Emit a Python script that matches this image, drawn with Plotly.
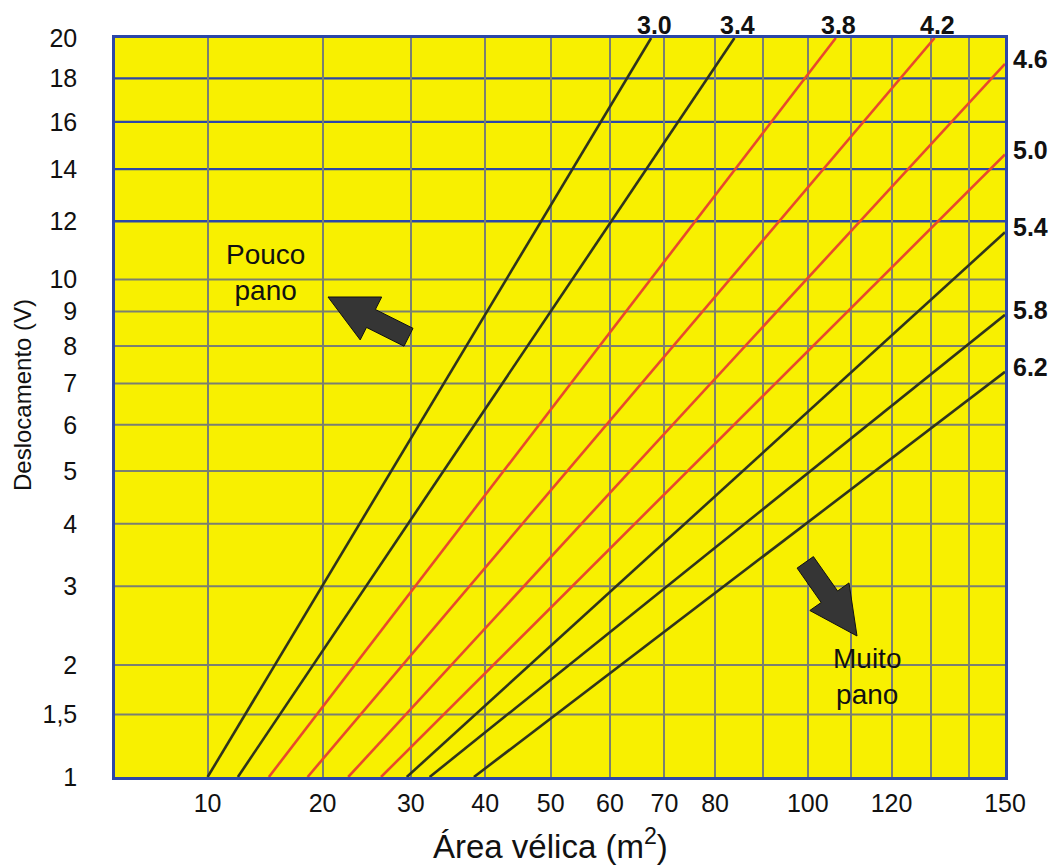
import numpy as np
import plotly.graph_objects as go

# ---------------- data ----------------
ratio_labels = ["3.0", "3.4", "3.8", "4.2", "4.6", "5.0", "5.4", "5.8", "6.2"]
start_area = [10, 12.3, 14.9, 18.5, 22.7, 26.4, 29.5, 32.4, 38.4]   # m2 at V = 1
start_disp = [1, 1, 1, 1, 1, 1, 1, 1, 1]
end_area = [67.5, 84, 106.5, 131, 150, 150, 150, 150, 150]
end_disp = [20, 20, 20, 20, 18.7, 14.6, 11.6, 8.9, 7.3]
line_kind = ["dark", "dark", "red", "red", "red", "red", "dark", "dark", "dark"]

x_ticks = [10, 20, 30, 40, 50, 60, 70, 80, 100, 120, 150]
x_labels = ["10", "20", "30", "40", "50", "60", "70", "80", "100", "120", "150"]
x_extra_grid = [90, 110, 130, 140]
y_ticks = [1, 1.5, 2, 3, 4, 5, 6, 7, 8, 9, 10, 12, 14, 16, 18, 20]
y_labels = ["1", "1,5", "2", "3", "4", "5", "6", "7", "8", "9", "10", "12", "14", "16", "18", "20"]
y_blue = [12, 14, 16, 18]
x_min_area = 4.44

# ---------------- styles ----------------
YELLOW = "#f8f000"
BLUE = "#2c47a8"
GRAY = "#7b8070"
DARK = "#30341c"
RED = "#e8492c"
FONT = "Liberation Sans, Arial, Helvetica, sans-serif"


def sx(v):
    return np.sqrt(np.asarray(v, dtype=float))


def sy(v):
    return np.cbrt(np.asarray(v, dtype=float))


fig = go.Figure()

# ratio lines
for lab, a0, d0, a1, d1, kind in zip(ratio_labels, start_area, start_disp, end_area, end_disp, line_kind):
    fig.add_trace(go.Scatter(
        x=sx([a0, a1]), y=sy([d0, d1]), mode="lines",
        line=dict(color=RED if kind == "red" else DARK, width=2.6),
        hoverinfo="skip", name=lab))
    if d1 >= 20:
        fig.add_annotation(x=float(sx(a1)), y=float(sy(d1)), text="<b>%s</b>" % lab,
                           showarrow=False, xanchor="center", yanchor="bottom", yshift=-3,
                           xshift=3, font=dict(family=FONT, size=25, color="#111"))
    else:
        fig.add_annotation(x=float(sx(a1)), y=float(sy(d1)), text="<b>%s</b>" % lab,
                           showarrow=False, xanchor="left", yanchor="middle", xshift=6, yshift=5,
                           font=dict(family=FONT, size=25, color="#111"))

# horizontal grid lines
for v in y_ticks[1:-1]:
    fig.add_shape(type="line", xref="paper", yref="y", x0=0, x1=1,
                  y0=float(sy(v)), y1=float(sy(v)),
                  line=dict(color=BLUE if v in y_blue else GRAY, width=2.4 if v in y_blue else 2),
                  layer="between")


# arrows (decorative)
def arrow_path(tail, tip, L=90, HL=48, HW=48, BW=20):
    d = np.array(tip, float) - np.array(tail, float)
    d /= np.linalg.norm(d)
    n = np.array([-d[1], d[0]])
    pts_uv = [(0, 0), (-HL, HW / 2), (-HL, BW / 2), (-L, BW / 2), (-L, -BW / 2),
              (-HL, -BW / 2), (-HL, -HW / 2)]
    pts = [u * d + v * n for u, v in pts_uv]
    return "M" + " L".join("%.1f,%.1f" % (p[0], -p[1]) for p in pts) + " Z"


PL, PR, PT, PB = 115, 1005, 38, 777


def to_paper(px, py):
    return (px - PL) / (PR - PL), (PB - py) / (PB - PT)


for tail, tip in [((408, 337), (328, 297)), ((805, 562), (857, 636))]:
    ax_, ay_ = to_paper(*tip)
    fig.add_shape(type="path", xref="paper", yref="paper", xsizemode="pixel", ysizemode="pixel",
                  xanchor=ax_, yanchor=ay_, path=arrow_path(tail, tip),
                  fillcolor="#353535", line=dict(color="#111111", width=1), layer="above")

# region texts
for txt, px, py in [("Pouco<br>pano", 265, 272), ("Muito<br>pano", 867, 676)]:
    xp, yp = to_paper(px, py)
    fig.add_annotation(xref="paper", yref="paper", x=xp, y=yp, text=txt, showarrow=False,
                       xanchor="center", yanchor="middle",
                       font=dict(family=FONT, size=28, color="#111"))

# axis titles
fig.add_annotation(xref="paper", yref="paper", x=to_paper(550, 0)[0], y=0, yanchor="top", yshift=-44,
                   text="Área vélica (m<sup>2</sup>)", showarrow=False,
                   font=dict(family=FONT, size=33, color="#111"))
fig.add_annotation(xref="paper", yref="paper", x=to_paper(22, 0)[0], y=to_paper(0, 395)[1],
                   xanchor="center", yanchor="middle", textangle=-90,
                   text="Deslocamento (V)", showarrow=False,
                   font=dict(family=FONT, size=24, color="#111"))

fig.update_layout(
    width=1057, height=868,
    margin=dict(l=PL, r=1057 - PR, t=PT, b=868 - PB),
    paper_bgcolor="white", plot_bgcolor=YELLOW, showlegend=False,
    font=dict(family=FONT, color="#111"),
)
fig.update_xaxes(
    range=[float(sx(x_min_area)), float(sx(150))],
    tickmode="array", tickvals=sx(x_ticks), ticktext=x_labels,
    showgrid=True, gridcolor=GRAY, gridwidth=2, zeroline=False,
    minor=dict(tickmode="array", tickvals=sx(x_extra_grid), showgrid=True,
               gridcolor=GRAY, gridwidth=2, ticks=""),
    showline=True, mirror=True, linecolor=BLUE, linewidth=2.5,
    ticks="", ticklabelstandoff=2, tickfont=dict(family=FONT, size=25, color="#111"),
)
fig.update_yaxes(
    range=[float(sy(1)), float(sy(20))],
    tickmode="array", tickvals=sy(y_ticks), ticktext=y_labels,
    showgrid=False, zeroline=False,
    showline=True, mirror=True, linecolor=BLUE, linewidth=2.5,
    ticks="", ticklabelstandoff=30, tickfont=dict(family=FONT, size=25, color="#111"),
)

fig.write_html("out.html", config={"displayModeBar": False},
               post_script="document.body.style.margin='0';")
